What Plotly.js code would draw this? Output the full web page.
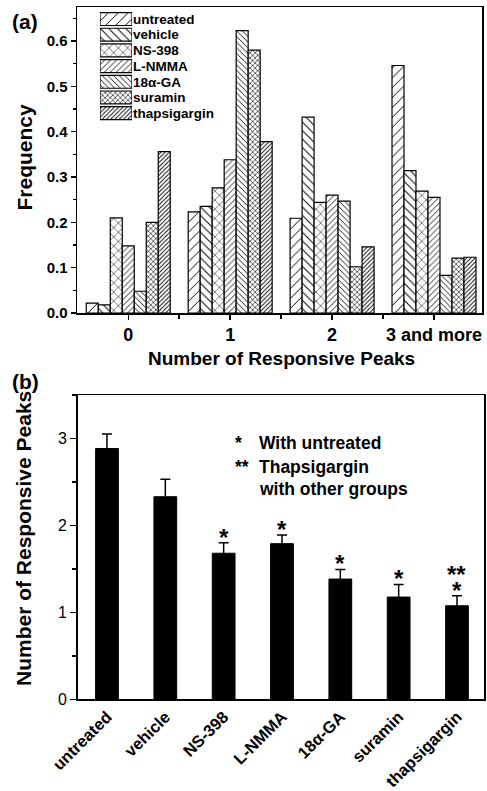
<!DOCTYPE html>
<html>
<head>
<meta charset="utf-8">
<script src="https://cdn.plot.ly/plotly-3.0.1.min.js"></script>
<style>html,body{margin:0;padding:0;background:#fff;}#chart{width:487px;height:791px;}</style>
</head>
<body>
<div id="chart"></div>
<script>
// ---------- DATA ----------
var peakCategories = ['0', '1', '2', '3 and more'];
var seriesNames = ['untreated', 'vehicle', 'NS-398', 'L-NMMA', '18\u03B1-GA', 'suramin', 'thapsigargin'];
// frequency per series across peak categories (0, 1, 2, 3 and more)
var freqUntreated    = [0.022, 0.223, 0.209, 0.546];
var freqVehicle      = [0.018, 0.235, 0.432, 0.314];
var freqNS398        = [0.210, 0.276, 0.244, 0.269];
var freqLNMMA        = [0.148, 0.338, 0.260, 0.255];
var freq18aGA        = [0.048, 0.623, 0.247, 0.083];
var freqSuramin      = [0.200, 0.580, 0.102, 0.121];
var freqThapsigargin = [0.356, 0.378, 0.146, 0.123];
// panel (b)
var meanPeaks = [2.885, 2.33, 1.68, 1.79, 1.383, 1.176, 1.076];
var semPeaks  = [0.165, 0.20, 0.12, 0.10, 0.11, 0.145, 0.115];
var sigUntreated = ['', '', '*', '*', '*', '*', '*'];
var sigOthers    = ['', '', '', '', '', '', '**'];

// ---------- STYLES ----------
var FONT = 'Liberation Sans, Arial, Helvetica, sans-serif';
var patShapes = ['/', '\\', 'x', '/', '\\', 'x', '/'];
var patSizes  = [7, 6, 6.5, 4.2, 4, 3.6, 3];
var patSolid  = [0.14, 0.16, 0.15, 0.2, 0.22, 0.3, 0.3];
var freqSeries = [freqUntreated, freqVehicle, freqNS398, freqLNMMA, freq18aGA, freqSuramin, freqThapsigargin];
var catIdx = peakCategories.map(function (c, i) { return i; });

var traces = [];
freqSeries.forEach(function (vals, k) {
  traces.push({
    type: 'bar', name: seriesNames[k], x: catIdx, y: vals,
    xaxis: 'x', yaxis: 'y', showlegend: false, hoverinfo: 'skip',
    marker: {
      color: 'white',
      line: {color: 'black', width: 1.2},
      pattern: {shape: patShapes[k], size: patSizes[k], solidity: patSolid[k], fgcolor: 'black', bgcolor: 'white'}
    }
  });
});

// legend swatches drawn as a small horizontal bar chart
traces.push({
  type: 'bar', orientation: 'h', y: seriesNames, x: seriesNames.map(function () { return 1; }),
  xaxis: 'x3', yaxis: 'y3', showlegend: false, hoverinfo: 'skip',
  marker: {
    color: 'white',
    line: {color: 'black', width: 1.2},
    pattern: {shape: patShapes, size: patSizes, solidity: patSolid, fgcolor: 'black', bgcolor: 'white'}
  }
});

traces.push({
  type: 'bar', x: seriesNames, y: meanPeaks, width: 0.39,
  xaxis: 'x2', yaxis: 'y2', showlegend: false, hoverinfo: 'skip',
  marker: {color: 'black', line: {color: 'black', width: 1}},
  error_y: {type: 'data', array: semPeaks, visible: true, color: 'black', thickness: 1.5, width: 5}
});

var annotations = [];
function addAnn(o) {
  annotations.push(Object.assign({showarrow: false, xanchor: 'center', yanchor: 'middle',
    font: {family: FONT, size: 17.5, color: 'black'}}, o));
}
function px(x) { return x / 487; }
function py(y) { return 1 - y / 791; }

addAnn({xref: 'paper', yref: 'paper', x: px(25), y: py(21), text: '<b>(a)</b>', font: {family: FONT, size: 21, color: 'black'}});
addAnn({xref: 'paper', yref: 'paper', x: px(25), y: py(381), text: '<b>(b)</b>', font: {family: FONT, size: 21, color: 'black'}});
addAnn({xref: 'paper', yref: 'paper', x: px(24), y: py(157.5), text: '<b>Frequency</b>', textangle: -90, font: {family: FONT, size: 21, color: 'black'}});
addAnn({xref: 'paper', yref: 'paper', x: px(281), y: py(358), text: '<b>Number of Responsive Peaks</b>', font: {family: FONT, size: 19, color: 'black'}});
addAnn({xref: 'paper', yref: 'paper', x: px(23), y: py(539), text: '<b>Number of Responsive Peaks</b>', textangle: -90, font: {family: FONT, size: 21, color: 'black'}});

addAnn({xref: 'paper', yref: 'paper', x: px(238), y: py(443), text: '<b>*</b>'});
addAnn({xref: 'paper', yref: 'paper', x: px(242), y: py(467), text: '<b>**</b>'});
addAnn({xref: 'paper', yref: 'paper', x: px(257), y: py(443), xanchor: 'left', text: '<b>With untreated</b>'});
addAnn({xref: 'paper', yref: 'paper', x: px(257), y: py(467), xanchor: 'left', text: '<b>Thapsigargin</b>'});
addAnn({xref: 'paper', yref: 'paper', x: px(257), y: py(489), xanchor: 'left', text: '<b>with other groups</b>'});

seriesNames.forEach(function (nm, i) {
  var top = meanPeaks[i] + semPeaks[i];
  if (sigUntreated[i]) addAnn({xref: 'x2', yref: 'y2', x: nm, y: top, yshift: 5.5, text: '<b>' + sigUntreated[i] + '</b>', font: {family: FONT, size: 24, color: 'black'}});
  if (sigOthers[i]) addAnn({xref: 'x2', yref: 'y2', x: nm, y: top, yshift: 21.5, text: '<b>' + sigOthers[i] + '</b>', font: {family: FONT, size: 24, color: 'black'}});
});

var axLine = {showline: true, linecolor: 'black', linewidth: 1.5, mirror: true, showgrid: false, zeroline: false, fixedrange: true};

var layout = {
  width: 487, height: 791,
  margin: {l: 0, r: 0, t: 0, b: 0},
  paper_bgcolor: 'white', plot_bgcolor: 'white',
  font: {family: FONT, color: 'black'},
  barmode: 'group', bargap: 0.176, bargroupgap: 0,
  showlegend: false,
  xaxis: Object.assign({}, axLine, {
    domain: [px(77), px(482)], anchor: 'y', range: [-0.503, 3.471],
    tickmode: 'array', tickvals: catIdx, ticktext: peakCategories,
    ticks: 'outside', ticklen: 5, tickwidth: 1.5, tickcolor: 'black',
    minor: {tickmode: 'array', tickvals: [0.5, 1.5, 2.5], ticks: 'outside', ticklen: 4, tickwidth: 1.5, tickcolor: 'black'},
    tickfont: {family: FONT, size: 18, weight: 'bold'}
  }),
  yaxis: Object.assign({}, axLine, {
    domain: [py(313), py(7)], anchor: 'x', range: [0, 0.675],
    dtick: 0.1, tick0: 0, tickformat: '.1f',
    ticks: 'outside', ticklen: 5, tickwidth: 1.5, tickcolor: 'black',
    minor: {dtick: 0.05, ticks: 'outside', ticklen: 3, tickwidth: 1.5, tickcolor: 'black'},
    tickfont: {family: FONT, size: 15, weight: 'bold'}
  }),
  xaxis2: Object.assign({}, axLine, {
    domain: [px(77.7), px(484)], anchor: 'y2', type: 'category', range: [-0.502, 6.463],
    ticks: '', tickangle: -45,
    tickfont: {family: FONT, size: 16.5, weight: 'bold'}
  }),
  yaxis2: Object.assign({}, axLine, {
    domain: [py(699.3), py(395)], anchor: 'x2', range: [0, 3.5],
    dtick: 1, tick0: 0,
    ticks: 'outside', ticklen: 6, tickwidth: 1.5, tickcolor: 'black',
    minor: {dtick: 0.5, ticks: 'outside', ticklen: 4, tickwidth: 1.5, tickcolor: 'black'},
    tickfont: {family: FONT, size: 16}
  }),
  xaxis3: {domain: [px(100), px(132)], anchor: 'y3', range: [0, 1], visible: false, fixedrange: true},
  yaxis3: {domain: [py(121), py(11.2)], anchor: 'x3', side: 'right', autorange: 'reversed',
    type: 'category', tickmode: 'array', tickvals: seriesNames, ticktext: seriesNames,
    showline: false, showgrid: false, zeroline: false, ticks: '', fixedrange: true,
    tickfont: {family: FONT, size: 13.5, weight: 'bold'}},
  annotations: annotations
};

Plotly.newPlot('chart', traces, layout, {staticPlot: true, displayModeBar: false});
</script>
</body>
</html>
